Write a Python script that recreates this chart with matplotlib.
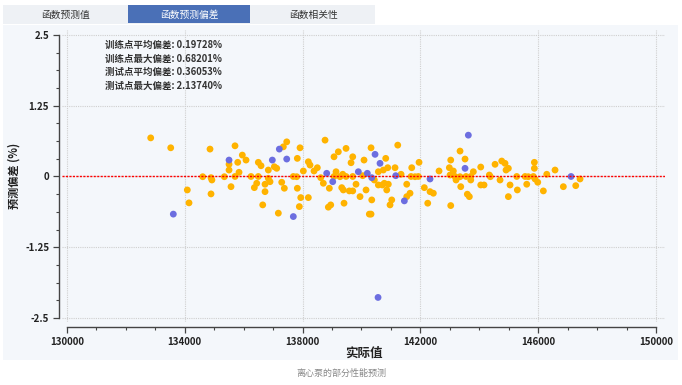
import matplotlib
matplotlib.use("Agg")
import matplotlib.pyplot as plt
from matplotlib.patches import Rectangle
from matplotlib.ticker import MultipleLocator

plt.rcParams['font.family'] = ['Noto Sans CJK SC', 'DejaVu Sans']

# Training points (actual value, prediction deviation %)
train_x = [132842, 133522, 134856, 134608, 134890, 134920, 134085, 134890, 134143,
           137461, 137346, 135705, 135953, 136079, 135797, 135502, 135502, 136497, 136588,
           137040, 137121, 136836, 135841, 135342, 135705, 136249, 136497, 136836, 136894,
           136724, 136442, 136361, 137291, 137380, 135569, 136724, 136646, 137176,
           138762, 137913, 137821, 138195, 138252, 138025, 138388, 138500, 139067, 139213,
           139475, 139702, 139645, 140086, 139135, 139363, 137685, 137800, 138616, 139067,
           139271, 139475, 139702, 140042, 138704, 139814, 137821, 138908, 139329, 139383,
           139587, 139702, 140154, 139950, 137937, 138195, 139407, 138955, 138874, 137889,
           140266,
           141231, 140324, 140823, 140572, 140742, 140891, 141139, 141343, 141706, 141954,
           141682, 141818, 141930, 142633, 140436, 140572, 140707, 140775, 140911, 140857,
           141536, 142134, 142327, 142440, 141648, 141536, 140348, 141027, 140969, 142249,
           140324,
           143346, 143516, 143030, 142983, 143119, 144049, 144535, 144762, 144874, 144987,
           144908, 143798, 143007, 143176, 143346, 143550, 143710, 144341, 144375, 145272,
           143210, 143710, 144705, 143370, 144049, 144161, 145044, 145292, 143594, 143662,
           144987, 143030,
           145870, 145870, 146572, 146291, 147421, 147275, 145554, 145666, 145836, 145893,
           145985, 145611, 146854, 146175]
train_y = [0.682, 0.507, 0.484, -0.004, -0.021, -0.062, -0.238, -0.308, -0.466,
           0.612, 0.524, 0.542, 0.378, 0.290, 0.250, 0.215, 0.114, 0.250, 0.190,
           0.172, 0.144, 0.114, 0.074, -0.004, 0.000, 0.000, 0.000, -0.032, -0.092,
           -0.137, -0.120, -0.197, -0.102, -0.208, -0.180, -0.268, -0.502, -0.648,
           0.642, 0.507, 0.320, 0.260, 0.202, 0.097, 0.097, 0.155, 0.348, 0.436,
           0.496, 0.348, 0.243, 0.290, 0.084, 0.039, 0.000, -0.004, -0.021, 0.000,
           -0.004, 0.000, 0.000, 0.014, -0.120, -0.137, -0.208, -0.208, -0.197, -0.238,
           -0.255, -0.255, -0.238, -0.356, -0.373, -0.373, -0.472, -0.502, -0.542, -0.532,
           -0.665,
           0.554, 0.507, 0.320, 0.084, 0.114, 0.155, 0.155, 0.039, 0.155, 0.250,
           0.000, -0.004, 0.000, 0.097, -0.062, -0.150, -0.150, -0.120, -0.137, -0.238,
           -0.137, -0.197, -0.268, -0.296, -0.296, -0.356, -0.414, -0.414, -0.502, -0.472,
           -0.665,
           0.449, 0.308, 0.290, 0.155, 0.097, 0.167, 0.215, 0.273, 0.232, 0.144,
           0.114, 0.084, 0.026, 0.000, -0.004, 0.000, 0.000, 0.026, -0.004, 0.000,
           -0.062, -0.062, -0.062, -0.180, -0.150, -0.150, -0.150, -0.238, -0.313, -0.356,
           -0.356, -0.514,
           0.250, 0.144, 0.114, 0.039, -0.044, -0.162, 0.000, -0.004, 0.000, -0.044,
           -0.102, -0.137, -0.180, -0.255]

# Test points
test_x = [133610, 135502, 136972, 137461, 137210, 137685, 138819, 139893, 140198, 139023,
          140460, 140629, 140348, 141163, 142327, 141455, 140562, 143628, 143516, 147116]
test_y = [-0.665, 0.290, 0.290, 0.308, 0.484, -0.708, 0.056, 0.084, 0.056, -0.092,
          0.391, 0.232, -0.021, 0.014, -0.044, -0.431, -2.137, 0.730, 0.144, 0.000]

stats_labels = ["训练点平均偏差", "训练点最大偏差", "测试点平均偏差", "测试点最大偏差"]
stats_values = ["0.19728%", "0.68201%", "0.36053%", "2.13740%"]

tabs = ["函数预测值", "函数预测偏差", "函数相关性"]
x_ticks = [130000, 134000, 138000, 142000, 146000, 150000]
y_ticks = [-2.5, -1.25, 0, 1.25, 2.5]

W, H = 682, 385
fig = plt.figure(figsize=(W / 100, H / 100), dpi=100)
fig.patch.set_facecolor('white')

panel_bg = '#f4f7fb'
# chart panel
fig.patches.append(Rectangle((3 / W, 1 - 360 / H), 675 / W, 335 / H,
                             transform=fig.transFigure, facecolor=panel_bg,
                             edgecolor='none', zorder=-2))
# tab bar
fig.patches.append(Rectangle((3 / W, 1 - 24 / H), 372 / W, 19 / H,
                             transform=fig.transFigure, facecolor='#eef1f5',
                             edgecolor='none', zorder=-2))
fig.patches.append(Rectangle((128 / W, 1 - 23 / H), 122 / W, 18 / H,
                             transform=fig.transFigure, facecolor='#4a70b7',
                             edgecolor='none', zorder=-1))
tab_centers = [65, 189, 313]
for i, (t, cx) in enumerate(zip(tabs, tab_centers)):
    fig.text(cx / W, 1 - 14.5 / H, t, ha='center', va='center', fontsize=7,
             color='white' if i == 1 else '#333333', zorder=3)

ax = fig.add_axes([62 / W, 1 - 322 / H, (665 - 62) / W, (322 - 30) / H])
ax.set_zorder(5)
ax.set_facecolor(panel_bg)
ax.set_xlim(129830, 150306)
ax.set_ylim(-2.571, 2.588)

ax.scatter(train_x, train_y, s=24, color='#ffb300', edgecolors='none', zorder=3)
ax.scatter(test_x, test_y, s=24, color='#6c6ee0', edgecolors='none', zorder=4)
ax.axhline(0, color='#ff0000', linestyle=(0, (1.5, 1)), linewidth=1.0, zorder=5)

ax.set_xticks(x_ticks)
ax.set_xticklabels([str(v) for v in x_ticks])
ax.set_yticks(y_ticks)
ax.set_yticklabels(['-2.5', '-1.25', '0', '1.25', '2.5'])
ax.xaxis.set_minor_locator(MultipleLocator(1000))
ax.yaxis.set_minor_locator(MultipleLocator(0.3125))
ax.grid(True, which='major', color='#cfcfcf', linestyle=(0, (1, 1)), linewidth=0.8, zorder=1)

for s in ['top', 'right']:
    ax.spines[s].set_visible(False)
ax.spines['left'].set_position(('outward', 2.2))
ax.spines['bottom'].set_position(('outward', 3.6))
ax.spines['left'].set_bounds(-2.5, 2.5)
ax.spines['bottom'].set_bounds(130000, 150000)
for s in ['left', 'bottom']:
    ax.spines[s].set_color('#444444')
    ax.spines[s].set_linewidth(1.0)

ax.tick_params(which='major', direction='out', length=4, width=0.9, colors='#444444',
               labelsize=7, labelcolor='#222222', pad=3)
ax.tick_params(which='minor', direction='out', length=2.5, width=0.8, colors='#444444')
for lab in ax.get_xticklabels() + ax.get_yticklabels():
    lab.set_fontweight('bold')

ax.set_xlabel("实际值", fontsize=9, fontweight='bold', color='#222222', labelpad=0)
ax.set_ylabel("预测偏差 (%)", fontsize=8, fontweight='bold', color='#222222', labelpad=3)

for i, (lab, val) in enumerate(zip(stats_labels, stats_values)):
    ax.text(105 / W, 1 - (45 + 13.7 * i) / H, f"{lab}: {val}", ha='left', va='center',
            fontsize=6.8, color='#333333', fontweight='bold',
            transform=fig.transFigure, zorder=6)

fig.text(341 / W, 1 - 373 / H, "离心泵的部分性能预测", ha='center', va='center',
         fontsize=6.5, color='#888888')

fig.savefig("out.png", dpi=100, facecolor='white')
